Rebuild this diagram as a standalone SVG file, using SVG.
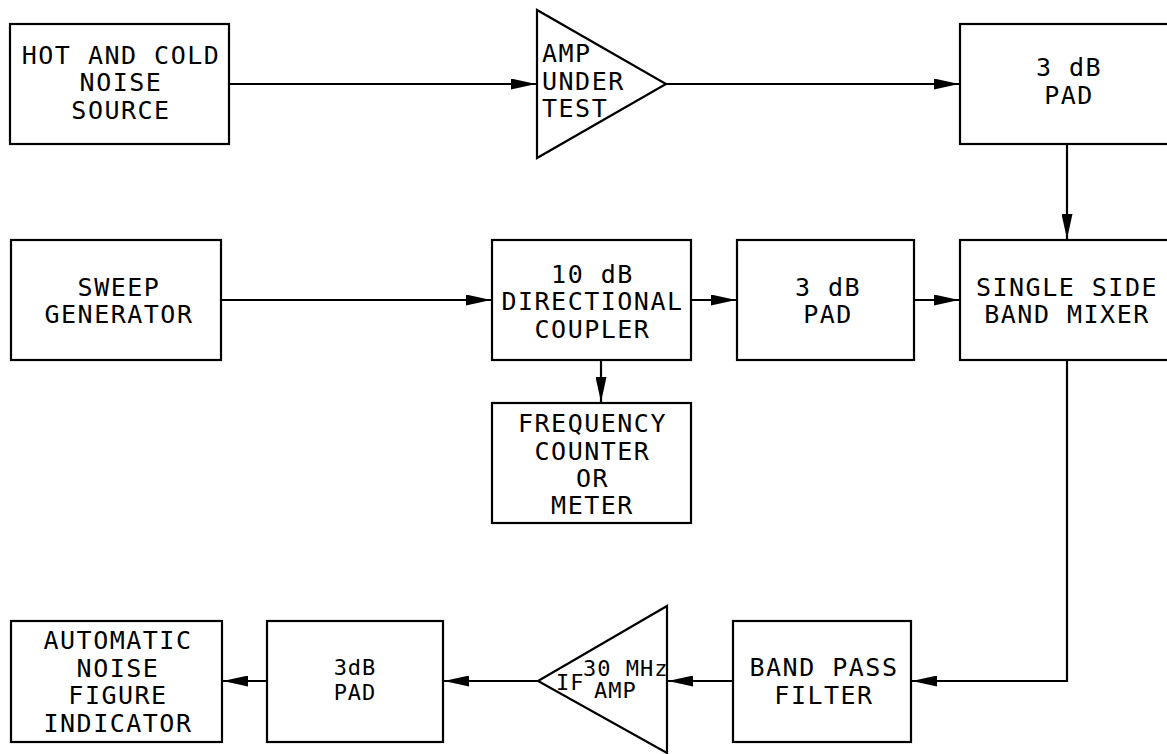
<svg xmlns="http://www.w3.org/2000/svg" width="1167" height="754" viewBox="0 0 1167 754">
<style>
.b{fill:#fff;stroke:#000;stroke-width:2.2}
.c{fill:none;stroke:#000;stroke-width:2.2}
text{font-family:"DejaVu Sans Mono","Liberation Mono",monospace;font-size:25px;letter-spacing:1.5px;fill:#000;text-anchor:middle}
.l{text-anchor:start}
.s{font-size:22px;letter-spacing:1px;text-anchor:start}
.m{font-size:22px;letter-spacing:1px}
</style>
<defs>
<marker id="ah" markerUnits="userSpaceOnUse" markerWidth="26" markerHeight="11" refX="25" refY="5.5" orient="auto">
<path d="M0,0 L25,5.5 L0,11 z" fill="#000"/>
</marker>
</defs>
<rect width="1167" height="754" fill="#fff"/>
<g id="connectors">
<path class="c" d="M229,84 H536" marker-end="url(#ah)"/>
<path class="c" d="M666,84 H959" marker-end="url(#ah)"/>
<path class="c" d="M1067,144 V239" marker-end="url(#ah)"/>
<path class="c" d="M221,300 H491" marker-end="url(#ah)"/>
<path class="c" d="M691,300 H736" marker-end="url(#ah)"/>
<path class="c" d="M914,300 H959" marker-end="url(#ah)"/>
<path class="c" d="M601,360 V402" marker-end="url(#ah)"/>
<path class="c" d="M1067,360 V681 H912" marker-end="url(#ah)"/>
<path class="c" d="M733,681 H668" marker-end="url(#ah)"/>
<path class="c" d="M538,681 H444" marker-end="url(#ah)"/>
<path class="c" d="M267,681 H223" marker-end="url(#ah)"/>
</g>
<g id="noise-source">
<rect class="b" x="10" y="24" width="219" height="120"/>
<text x="121" y="64">HOT AND COLD</text>
<text x="121" y="91">NOISE</text>
<text x="121" y="118.5">SOURCE</text>
</g>
<g id="amp-under-test">
<polygon class="b" points="537,10 537,158 666,84"/>
<text class="l" x="542" y="62">AMP</text>
<text class="l" x="542" y="89.5">UNDER</text>
<text class="l" x="542" y="117">TEST</text>
</g>
<g id="pad-top">
<rect class="b" x="960" y="24" width="214" height="120"/>
<text x="1069" y="76">3 dB</text>
<text x="1069" y="103.5">PAD</text>
</g>
<g id="sweep-generator">
<rect class="b" x="11" y="240" width="210" height="120"/>
<text x="119" y="296">SWEEP</text>
<text x="119" y="323">GENERATOR</text>
</g>
<g id="directional-coupler">
<rect class="b" x="492" y="240" width="199" height="120"/>
<text x="592.5" y="283">10 dB</text>
<text x="592.5" y="310">DIRECTIONAL</text>
<text x="592.5" y="337.5">COUPLER</text>
</g>
<g id="pad-mid">
<rect class="b" x="737" y="240" width="177" height="120"/>
<text x="828" y="296">3 dB</text>
<text x="828" y="323">PAD</text>
</g>
<g id="ssb-mixer">
<rect class="b" x="960" y="240" width="214" height="120"/>
<text x="1067" y="296">SINGLE SIDE</text>
<text x="1067" y="323">BAND MIXER</text>
</g>
<g id="frequency-counter">
<rect class="b" x="492" y="403" width="199" height="120"/>
<text x="592.5" y="432">FREQUENCY</text>
<text x="592.5" y="459.5">COUNTER</text>
<text x="592.5" y="487">OR</text>
<text x="592.5" y="514">METER</text>
</g>
<g id="noise-figure-indicator">
<rect class="b" x="11" y="621" width="211" height="121"/>
<text x="118" y="649">AUTOMATIC</text>
<text x="118" y="677">NOISE</text>
<text x="118" y="704">FIGURE</text>
<text x="118" y="732">INDICATOR</text>
</g>
<g id="pad-bottom">
<rect class="b" x="267" y="621" width="176" height="121"/>
<text class="m" x="355" y="675">3dB</text>
<text class="m" x="355" y="700">PAD</text>
</g>
<g id="if-amp">
<polygon class="b" points="667,606 667,753 538,681"/>
<text class="s" x="556" y="690">IF</text>
<text class="s" x="583" y="676">30 MHz</text>
<text class="s" x="594" y="697.5">AMP</text>
</g>
<g id="band-pass-filter">
<rect class="b" x="733" y="621" width="178" height="121"/>
<text x="824" y="676">BAND PASS</text>
<text x="824" y="703.5">FILTER</text>
</g>
</svg>
